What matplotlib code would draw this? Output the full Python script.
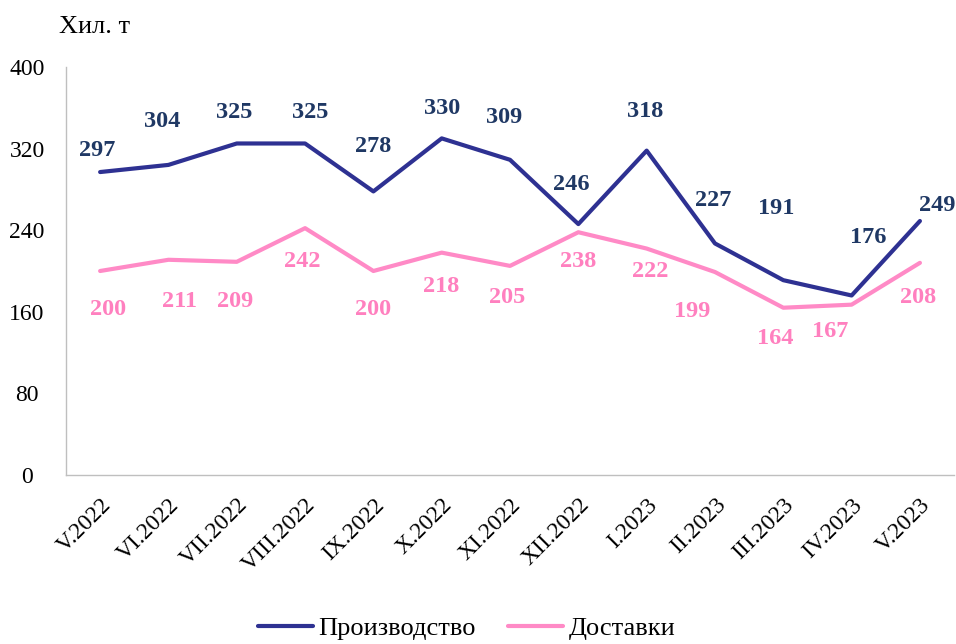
import matplotlib
matplotlib.use('Agg')
import matplotlib.pyplot as plt

months = ['V.2022', 'VI.2022', 'VII.2022', 'VIII.2022', 'IX.2022', 'X.2022', 'XI.2022',
          'XII.2022', 'I.2023', 'II.2023', 'III.2023', 'IV.2023', 'V.2023']
production = [297, 304, 325, 325, 278, 330, 309, 246, 318, 227, 191, 176, 249]
deliveries = [200, 211, 209, 242, 200, 218, 205, 238, 222, 199, 164, 167, 208]

# label offsets in pixels (dx, dy up positive)
prod_off = [(-3, 22), (-6, 43), (-3, 31), (5, 31), (0, 45), (0, 30), (-6, 42),
            (-7, 40), (-2, 39), (-2, 43), (-7, 72), (17, 58), (17, 16)]
deliv_off = [(8, -39), (11, -42), (-2, -40), (-3, -33), (0, -39), (-1, -34), (-3, -32),
             (0, -29), (4, -23), (-23, -39), (-8, -31), (-21, -27), (-2, -35)]

plt.rcParams['font.family'] = ['Liberation Serif', 'DejaVu Serif']

c_prod = '#2E3192'
c_prod_lbl = '#1F3864'
c_del = '#FF8AC6'
c_del_lbl = '#FF80BF'

fig = plt.figure(figsize=(9.56, 6.44), dpi=100)
ax = fig.add_axes([0.069, 0.2624, 0.929, 0.6336])

x = range(len(months))
ax.plot(x, production, color=c_prod, lw=3, label='Производство', solid_capstyle='round')
ax.plot(x, deliveries, color=c_del, lw=3, label='Доставки', solid_capstyle='round')

for i, v in enumerate(production):
    ax.annotate(str(v), (i, v), xytext=prod_off[i], textcoords='offset pixels',
                ha='center', va='center', fontsize=17.5, fontweight='bold', color=c_prod_lbl)
for i, v in enumerate(deliveries):
    ax.annotate(str(v), (i, v), xytext=deliv_off[i], textcoords='offset pixels',
                ha='center', va='center', fontsize=17.5, fontweight='bold', color=c_del_lbl)

ax.set_xlim(-0.5, len(months) - 0.5)
ax.set_ylim(0, 400)
ax.set_yticks(range(0, 401, 80))
ax.set_xticks(list(x))
ax.set_xticklabels(months, rotation=45, ha='right', va='top', rotation_mode='anchor')
ax.tick_params(axis='both', length=0, labelsize=17)
ax.tick_params(axis='x', pad=14)
ax.tick_params(axis='y', pad=28)
for lbl in ax.get_yticklabels():
    lbl.set_horizontalalignment('center')

for s in ['top', 'right']:
    ax.spines[s].set_visible(False)
for s in ['left', 'bottom']:
    ax.spines[s].set_color('#BFBFBF')
    ax.spines[s].set_linewidth(1)

fig.text(0.062, 0.958, 'Хил. т', fontsize=19, ha='left', va='center')

fig.legend(loc='center', bbox_to_anchor=(0.488, 0.024), ncol=2, frameon=False,
           fontsize=19, handlelength=2.1, columnspacing=1.2, handletextpad=0.2)

fig.savefig('out.png', dpi=100)
